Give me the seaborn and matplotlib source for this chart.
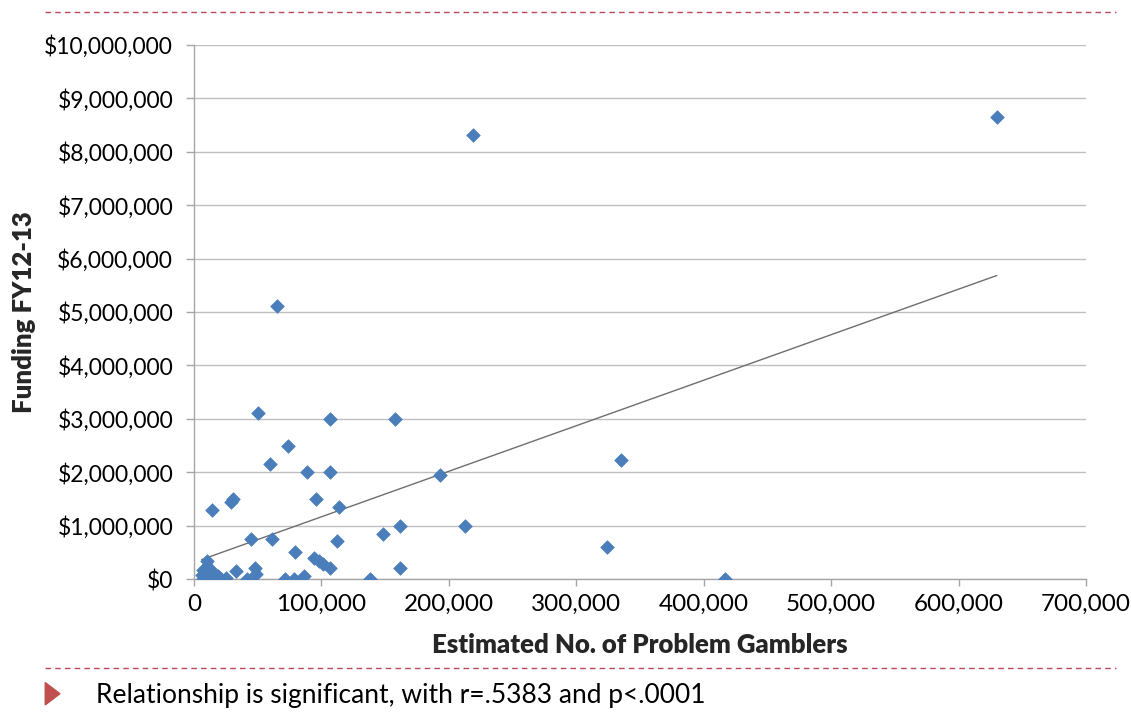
import numpy as np
import pandas as pd
import seaborn as sns
import matplotlib.pyplot as plt
from matplotlib.lines import Line2D
from matplotlib.patches import Polygon
from matplotlib.ticker import FuncFormatter, MultipleLocator

# Estimated number of problem gamblers vs state funding
gamblers = [
    630000, 219000, 65000, 50000, 107000, 158000, 74000, 60000, 89000, 107000,
    193000, 335000, 96000, 29000, 31000, 14000, 114000, 162000, 213000, 148000,
    45000, 61000, 112000, 324000, 79000, 94000, 98000, 101000, 107000, 162000,
    33000, 48000, 49000, 41500, 71500, 78500, 86000, 138000, 417000,
    10000, 10000, 7000, 13000, 6000, 15000, 19000, 7000, 12000, 17000, 21000, 25000,
]
funding = [
    8650000, 8320000, 5110000, 3110000, 3000000, 3000000, 2500000, 2150000, 2000000, 2000000,
    1940000, 2230000, 1500000, 1440000, 1500000, 1300000, 1350000, 1000000, 990000, 840000,
    750000, 750000, 720000, 600000, 500000, 390000, 340000, 290000, 200000, 200000,
    150000, 200000, 100000, 0, 0, 0, 50000, 0, 0,
    330000, 230000, 170000, 170000, 70000, 80000, 50000, 0, 0, 0, 0, 10000,
]

x_label = "Estimated No. of Problem Gamblers"
y_label = "Funding FY12-13"
note = "Relationship is significant, with r=.5383 and p<.0001"


def main():
    df = pd.DataFrame({"gamblers": gamblers, "funding": funding})

    sns.set_theme(style="white")
    plt.rcParams["font.family"] = ["Lato", "DejaVu Sans"]

    fig = plt.figure(figsize=(11.31, 7.2), dpi=100)
    ax = fig.add_axes([0.1715, 0.1958, 0.9602 - 0.1715, 0.9375 - 0.1958])

    sns.regplot(
        data=df, x="gamblers", y="funding", scatter=False, ci=None, ax=ax,
        line_kws={"color": "#6e6e6e", "linewidth": 1.0, "zorder": 2},
    )
    sns.scatterplot(
        data=df, x="gamblers", y="funding", marker="D", s=48,
        color="#4a7ebb", edgecolor="#4a7ebb", linewidth=0.5, ax=ax, zorder=3,
    )

    ax.set_xlim(0, 700000)
    ax.set_ylim(0, 10000000)
    ax.xaxis.set_major_locator(MultipleLocator(100000))
    ax.yaxis.set_major_locator(MultipleLocator(1000000))
    ax.xaxis.set_major_formatter(FuncFormatter(lambda v, p: f"{v:,.0f}"))
    ax.yaxis.set_major_formatter(FuncFormatter(lambda v, p: f"${v:,.0f}"))

    ax.grid(axis="y", color="#bfbfbf", linewidth=1.0)
    ax.set_axisbelow(True)
    for side in ["top", "right"]:
        ax.spines[side].set_visible(False)
    for side in ["left", "bottom"]:
        ax.spines[side].set_color("#a6a6a6")
        ax.spines[side].set_linewidth(1.0)

    ax.tick_params(axis="y", direction="out", length=6, width=1, color="#a6a6a6",
                   pad=9, labelsize=16.5, labelcolor="black", left=True)
    ax.tick_params(axis="x", direction="out", length=5, width=1, color="#a6a6a6",
                   pad=6, labelsize=17.5, labelcolor="black", bottom=True)

    ax.set_xlabel(x_label, fontsize=18.5, fontweight="heavy", labelpad=13)
    ax.set_ylabel(y_label, fontsize=18.5, fontweight="heavy", labelpad=6)

    # dashed separators and bullet note
    red = "#b84a58"
    fig.add_artist(Line2D([0.04, 0.987], [0.983, 0.983], color=red, linewidth=1,
                          linestyle=(0, (4, 3)), transform=fig.transFigure))
    fig.add_artist(Line2D([0.04, 0.987], [0.072, 0.072], color=red, linewidth=1,
                          linestyle=(0, (4, 3)), transform=fig.transFigure))
    fig.add_artist(Polygon([[0.040, 0.052], [0.040, 0.021], [0.053, 0.0365]],
                           closed=True, color="#c0504d", transform=fig.transFigure))
    fig.text(0.085, 0.024, note, fontsize=19, color="black", ha="left", va="baseline")

    fig.savefig("out.png", dpi=100)


if __name__ == "__main__":
    main()
